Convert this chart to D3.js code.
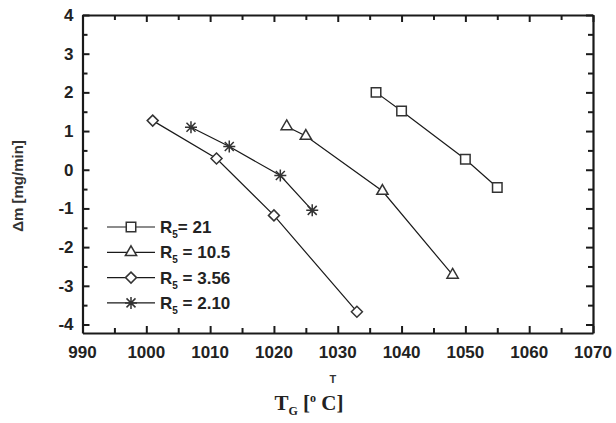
<!DOCTYPE html>
<html>
<head>
<meta charset="utf-8">
<script src="https://d3js.org/d3.v7.min.js"></script>
<style>
  body { margin: 0; background: #fff; }
  svg { display: block; }
  .tick-label { font-family: "Liberation Sans", Arial, sans-serif; font-weight: bold; font-size: 17px; fill: #222; }
</style>
</head>
<body>
<svg id="chart"></svg>
<script>
// series: [T_G, delta m]
const seriesNames = ["21", "10.5", "3.56", "2.10"];
const seriesSymbols = ["square", "triangle", "diamond", "star"];
const r21 = [[1036, 2.0], [1040, 1.52], [1050, 0.27], [1055, -0.46]];
const r105 = [[1022, 1.12], [1025, 0.87], [1037, -0.55], [1048, -2.72]];
const r356 = [[1001, 1.27], [1011, 0.29], [1020, -1.18], [1033, -3.67]];
const r210 = [[1007, 1.1], [1013, 0.6], [1021, -0.15], [1026, -1.05]];
const xTicks = [990, 1000, 1010, 1020, 1030, 1040, 1050, 1060, 1070];
const yTicks = [-4, -3, -2, -1, 0, 1, 2, 3, 4];

const width = 616, height = 423;
const margin = { top: 15, right: 23, bottom: 90, left: 82.5 };
const svg = d3.select("#chart").attr("width", width).attr("height", height);

const x = d3.scaleLinear().domain([990, 1070]).range([margin.left, width - margin.right]);
const y = d3.scaleLinear().domain([-4.22, 4]).range([height - margin.bottom, margin.top]);

const ink = "#1a1a1a";
const markColor = "#333";

// axes, ticks pointing inward on all four sides
const xMinor = d3.range(995, 1070, 10);
const yMinor = d3.range(-3.5, 4, 1);

function tickSet(axis, major, minor) {
    return axis.tickValues(major.concat(minor)).tickFormat("").tickSizeOuter(0);
}

const gx = svg.append("g")
    .attr("transform", `translate(0,${y.range()[0]})`)
    .call(tickSet(d3.axisTop(x), xTicks, xMinor));
const gxTop = svg.append("g")
    .attr("transform", `translate(0,${y.range()[1]})`)
    .call(tickSet(d3.axisBottom(x), xTicks, xMinor));
const gy = svg.append("g")
    .attr("transform", `translate(${x.range()[0]},0)`)
    .call(tickSet(d3.axisRight(y), yTicks, yMinor));
const gyRight = svg.append("g")
    .attr("transform", `translate(${x.range()[1]},0)`)
    .call(tickSet(d3.axisLeft(y), yTicks, yMinor));

function isMinor(node) {
    const d = d3.select(node.parentNode).datum();
    return !(xTicks.includes(d) || yTicks.includes(d));
}
[gx, gxTop, gy, gyRight].forEach(g => {
    g.select(".domain").attr("stroke", ink).attr("stroke-width", 2.2);
    g.selectAll(".tick line").attr("stroke", ink).attr("stroke-width", 2)
        .attr("x2", function () { const v = +d3.select(this).attr("x2"); return v ? Math.sign(v) * (isMinor(this) ? 5 : 7) : 0; })
        .attr("y2", function () { const v = +d3.select(this).attr("y2"); return v ? Math.sign(v) * (isMinor(this) ? 5 : 7) : 0; });
});

// tick labels
svg.selectAll(".xl").data(xTicks).enter().append("text")
    .attr("class", "tick-label")
    .attr("x", d => x(d)).attr("y", y.range()[0] + 25)
    .attr("text-anchor", "middle")
    .text(d => d);
svg.selectAll(".yl").data(yTicks).enter().append("text")
    .attr("class", "tick-label")
    .attr("x", x.range()[0] - 9).attr("y", d => y(d) + 6)
    .attr("text-anchor", "end")
    .text(d => d);

// axis titles
svg.append("text")
    .attr("transform", `translate(23,186) rotate(-90)`)
    .attr("text-anchor", "middle")
    .style("font-family", "'Liberation Sans', Arial, sans-serif")
    .style("font-weight", "bold").style("font-size", "15px").style("fill", "#333")
    .text("Δm [mg/min]");

svg.append("text")
    .attr("x", x(1030) - 5).attr("y", 383)
    .attr("text-anchor", "middle")
    .style("font-family", "'Liberation Sans', Arial, sans-serif")
    .style("font-weight", "bold").style("font-size", "11px").style("fill", "#333")
    .text("T");

const xt = svg.append("text")
    .attr("x", 309).attr("y", 410)
    .attr("text-anchor", "middle")
    .style("font-family", "'Liberation Serif', 'Times New Roman', serif")
    .style("font-weight", "bold").style("font-size", "21px").style("fill", "#222");
xt.append("tspan").text("T");
xt.append("tspan").attr("dy", 5).style("font-size", "12px").text("G");
xt.append("tspan").attr("dy", -5).text(" [");
xt.append("tspan").attr("dy", -8).style("font-size", "12px").text("o");
xt.append("tspan").attr("dy", 8).text(" C]");

// markers
const symbolPath = {
    square: d3.symbol().type(d3.symbolSquare).size(90)(),
    triangle: d3.symbol().type(d3.symbolTriangle).size(55)(),
    diamond: "M0,-5.5L5.5,0L0,5.5L-5.5,0Z",
    star: "M-6,0H6M0,-6V6M-4.5,-4.5L4.5,4.5M-4.5,4.5L4.5,-4.5"
};

const allSeries = [r21, r105, r356, r210];
const line = d3.line().x(d => x(d[0])).y(d => y(d[1]));

allSeries.forEach((data, i) => {
    svg.append("path")
        .datum(data)
        .attr("d", line)
        .attr("fill", "none")
        .attr("stroke", ink)
        .attr("stroke-width", 1.2);

    svg.selectAll(".m" + i)
        .data(data)
        .enter().append("path")
        .attr("transform", d => `translate(${x(d[0])},${y(d[1])})`)
        .attr("d", symbolPath[seriesSymbols[i]])
        .attr("fill", "#fff")
        .attr("stroke", markColor)
        .attr("stroke-width", 1.5);
});

// legend
const legend = svg.append("g").attr("transform", "translate(107,227)");
seriesNames.forEach((name, i) => {
    const row = legend.append("g").attr("transform", `translate(0,${i * 25.3})`);
    row.append("line").attr("x1", 0).attr("x2", 48)
        .attr("stroke", ink).attr("stroke-width", 1.2);
    row.append("path")
        .attr("transform", "translate(24,0)")
        .attr("d", symbolPath[seriesSymbols[i]])
        .attr("fill", "#fff").attr("stroke", markColor).attr("stroke-width", 1.5);
    const t = row.append("text")
        .attr("x", 53).attr("y", 6)
        .attr("class", "tick-label");
    t.append("tspan").text("R");
    t.append("tspan").attr("dy", 5).style("font-size", "10px").text("5");
    t.append("tspan").attr("dy", -5).text(i === 0 ? "= " + name : " = " + name);
});
</script>
</body>
</html>
